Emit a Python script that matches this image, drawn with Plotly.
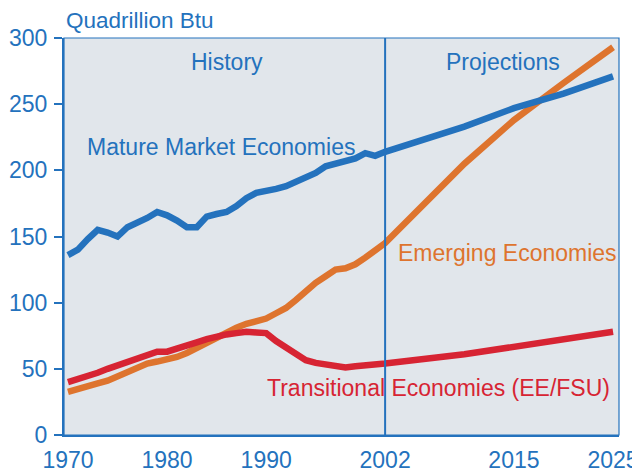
import plotly.graph_objects as go

hist_years = list(range(1970, 2003))
proj_years = [2010, 2015, 2020, 2025]
years = hist_years + proj_years

mature = [136, 140, 148, 155, 153, 150, 157, 160, 164, 168.5,
          166, 162, 157, 157, 165, 167, 168.5, 173, 179, 183,
          184, 186, 188, 191, 195, 198, 203, 205, 206, 209,
          213, 211, 214,
          233, 247, 258, 271]
emerging = [32.5, 35, 37, 39, 41, 44, 47, 50, 54, 55.5,
            57, 59, 62, 66, 70, 74, 78, 81, 84, 86,
            88, 92, 96, 102, 109, 115, 120, 125, 126, 129,
            134, 139, 145,
            205, 238, 266, 293]
transitional = [40, 42, 45, 47, 50, 52.5, 55, 58, 61, 63,
                63, 65, 67, 70, 72.5, 74.5, 76, 77, 78, 77.5,
                77, 71, 66, 61, 56.5, 54.5, 53.5, 51.5, 51, 52,
                53, 53.5, 54,
                61, 66.5, 72, 78]

x_ticks = [1970, 1980, 1990, 2002, 2015, 2025]
y_ticks = [0, 50, 100, 150, 200, 250, 300]

BLUE = "#2472BD"
ORANGE = "#DE742E"
RED = "#D72433"
BG = "#E1E6EB"
FONT = "Liberation Sans, Arial, sans-serif"

fig = go.Figure()
fig.add_trace(go.Scatter(x=years, y=emerging, mode="lines",
                         line=dict(color=ORANGE, width=6.5)))
fig.add_trace(go.Scatter(x=years, y=transitional, mode="lines",
                         line=dict(color=RED, width=6.5)))
fig.add_trace(go.Scatter(x=years, y=mature, mode="lines",
                         line=dict(color=BLUE, width=6.5)))

fig.add_shape(type="line", xref="x", yref="paper", x0=2002, x1=2002, y0=0, y1=1,
              line=dict(color=BLUE, width=2))
fig.add_shape(type="rect", xref="paper", yref="paper", x0=0, x1=1, y0=0, y1=1,
              line=dict(color=BLUE, width=1.2))

def ann(text, x, y, color, xanchor="center", size=23):
    fig.add_annotation(text=text, x=x, y=y, xref="paper", yref="paper", showarrow=False,
                       xanchor=xanchor, yanchor="middle",
                       font=dict(family=FONT, size=size, color=color))

# pixel helpers for plot area (64..619, 38..435)
def px(xp):
    return (xp - 64) / 555
def py(yp):
    return (435 - yp) / 397

ann("History", px(227), py(62), BLUE)
ann("Projections", px(503), py(62), BLUE)
ann("Mature Market Economies", px(85), py(147), BLUE, xanchor="left")
ann("Emerging Economies", px(396), py(253), ORANGE, xanchor="left")
ann("Transitional Economies (EE/FSU)", px(265), py(388), RED, xanchor="left")
ann("Quadrillion Btu", px(64), py(21), BLUE, xanchor="left", size=22.5)

# page body has an 8px margin, so the figure is drawn 8px in from the corner
fig.update_layout(
    width=632, height=464,
    margin=dict(l=56, r=21, t=30, b=37),
    paper_bgcolor="white", plot_bgcolor=BG,
    showlegend=False,
    font=dict(family=FONT, color=BLUE),
)
fig.update_xaxes(range=[1969.6, 2025.6], tickvals=x_ticks, ticktext=[str(v) for v in x_ticks],
                 showgrid=False, zeroline=False, showline=True, linecolor=BLUE, linewidth=1.5,
                 ticks="", ticklabelstandoff=4, automargin=False,
                 tickfont=dict(family=FONT, size=23, color=BLUE))
fig.update_yaxes(range=[0, 300], tickvals=y_ticks, showgrid=False, zeroline=False,
                 showline=True, linecolor=BLUE, linewidth=2, automargin=False,
                 ticks="outside", ticklen=8, tickcolor=BLUE, tickwidth=1.5,
                 ticklabelstandoff=2,
                 tickfont=dict(family=FONT, size=23, color=BLUE))

fig.write_html("out.html")
